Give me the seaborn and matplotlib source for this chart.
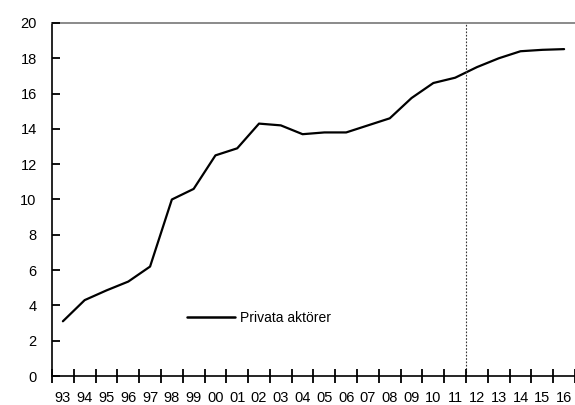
import matplotlib
matplotlib.use("Agg")
import matplotlib.pyplot as plt
import seaborn as sns
import pandas as pd

years = ["93", "94", "95", "96", "97", "98", "99", "00", "01", "02", "03", "04",
         "05", "06", "07", "08", "09", "10", "11", "12", "13", "14", "15", "16"]
privata = [3.1, 4.3, 4.85, 5.35, 6.2, 10.0, 10.6, 12.5, 12.9, 14.3, 14.2, 13.7,
           13.8, 13.8, 14.2, 14.6, 15.75, 16.6, 16.9, 17.5, 18.0, 18.4, 18.48, 18.52]
y_ticks = list(range(0, 21, 2))
series_name = "Privata aktörer"
forecast_start = "12"

sns.set_theme(style="white")
plt.rcParams.update({
    "font.family": ["Liberation Sans", "DejaVu Sans"],
    "text.color": "black",
    "xtick.color": "black",
    "ytick.color": "black",
    "xtick.bottom": True,
    "ytick.left": True,
})

df = pd.DataFrame({"year": years, "value": privata, "serie": series_name})

fig = plt.figure(figsize=(5.75, 4.05), dpi=100)
ax = fig.add_axes([52 / 575, 1 - 376 / 405, 523 / 575, 353 / 405])

sns.lineplot(data=df, x="year", y="value", hue="serie", palette=["black"],
             linewidth=1.6, ax=ax, sort=False)

n = len(years)
ax.set_xlim(-0.5, n - 0.5)
ax.set_ylim(y_ticks[0], y_ticks[-1])
ax.set_axisbelow(False)

# boundary between outcome and forecast
fx = years.index(forecast_start) - 0.5
ax.axvline(fx, color="#333333", linestyle=(0, (1.5, 1.5)), linewidth=0.8)

# tick marks between categories, year labels centred on each category
ax.set_xticks([i - 0.5 for i in range(n + 1)])
ax.set_xticklabels([])
ax.set_xticks(range(n), minor=True)
ax.set_xticklabels(years, minor=True)
ax.set_yticks(y_ticks)
ax.tick_params(axis="x", which="major", bottom=True, direction="inout", length=10,
               width=1.3, color="black")
ax.tick_params(axis="x", which="minor", bottom=True, length=0, pad=11, labelsize=10.5,
               labelcolor="black")
ax.tick_params(axis="y", which="major", left=True, direction="in", length=6, width=1.3,
               color="black", pad=11, labelsize=10.5, labelcolor="black")

ax.set_xlabel("")
ax.set_ylabel("")
for side in ["left", "bottom"]:
    ax.spines[side].set_color("black")
    ax.spines[side].set_linewidth(1.2)
ax.spines["top"].set_color("#777777")
ax.spines["top"].set_linewidth(1.2)
ax.spines["right"].set_visible(False)

leg = ax.legend(loc="center left", bbox_to_anchor=(0.234, 0.164), frameon=False,
                handlelength=3.45, fontsize=10, handletextpad=0.4)
for line in leg.get_lines():
    line.set_linewidth(1.8)
for t in leg.get_texts():
    t.set_color("black")

fig.savefig("out.png", dpi=100)
